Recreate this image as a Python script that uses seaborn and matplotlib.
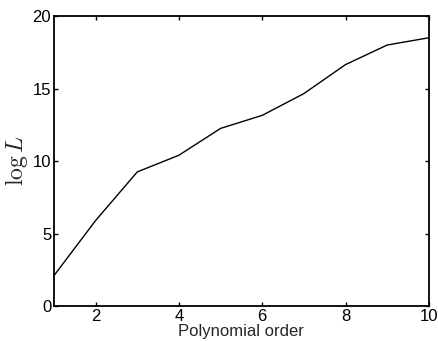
import matplotlib
matplotlib.use("Agg")
import matplotlib.pyplot as plt
import seaborn as sns
import pandas as pd

order = [1, 2, 3, 4, 5, 6, 7, 8, 9, 10]
log_l = [2.1, 5.9, 9.25, 10.4, 12.25, 13.15, 14.65, 16.65, 18.0, 18.5]
xticks = [2, 4, 6, 8, 10]
yticks = [0, 5, 10, 15, 20]

sns.set_theme(style="ticks")
plt.rcParams['font.family'] = ['Liberation Sans', 'DejaVu Sans']
plt.rcParams['mathtext.fontset'] = 'cm'

df = pd.DataFrame({"order": order, "logL": log_l})

fig = plt.figure(figsize=(4.38, 3.41), dpi=100)
ax = fig.add_axes([0.1233, 0.1026, 0.979 - 0.1233, 0.953 - 0.1026])
sns.lineplot(data=df, x="order", y="logL", ax=ax, color="black", linewidth=1.0)
ax.set_xlim(1, 10)
ax.set_ylim(0, 20)
ax.set_xticks(xticks)
ax.set_yticks(yticks)
ax.tick_params(direction="in", top=True, right=True, labelsize=12, length=3, width=1, colors="black", pad=2)
for s in ax.spines.values():
    s.set_linewidth(1.3)
    s.set_color("black")
ax.set_xlabel("Polynomial order", fontsize=12, labelpad=0.5)
ax.set_ylabel(r"$\log L$", fontsize=17, labelpad=2)
fig.savefig("out.png", dpi=100)
